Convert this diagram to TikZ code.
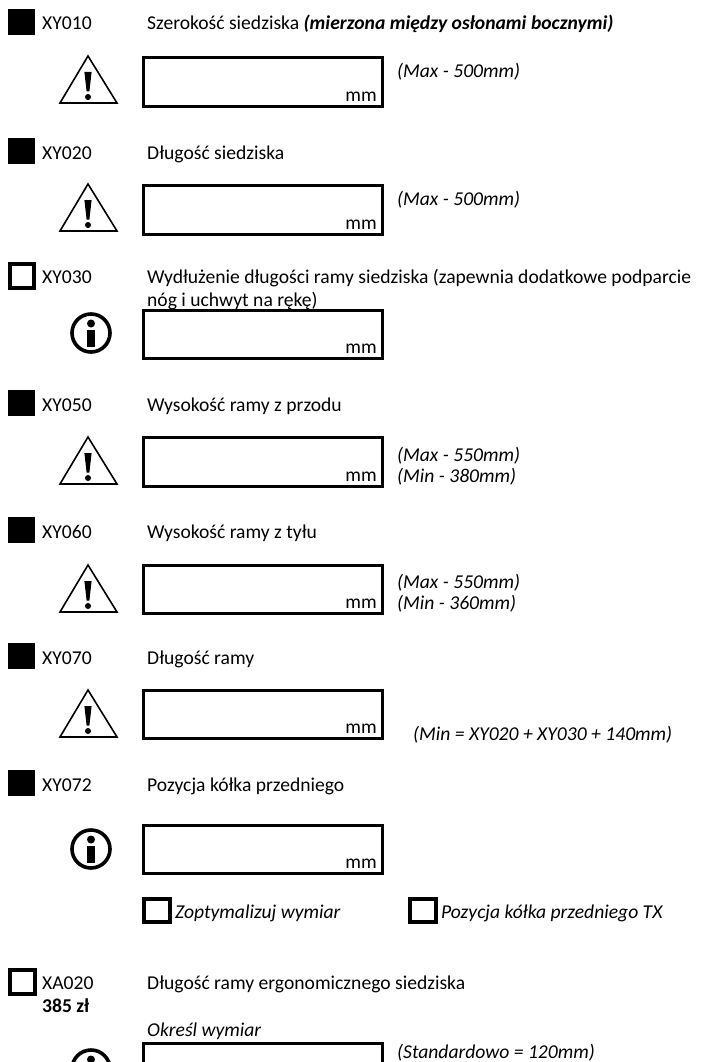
\documentclass[tikz,border=0pt]{standalone}
\usepackage{fontspec}
\setmainfont{Carlito}
\begin{document}
\begin{tikzpicture}[x=1pt,y=-1pt,
  txt/.style={anchor=base west, inner sep=0pt, font=\fontsize{19.6}{23}\selectfont},
  note/.style={anchor=base west, inner sep=0pt, font=\fontsize{19.6}{23}\selectfont\itshape},
  unit/.style={anchor=base east, inner sep=0pt, font=\fontsize{19.6}{23}\selectfont},
  valbox/.style={draw, line width=3pt},
  filledsq/.style={fill=black},
  hollowsq/.style={draw, line width=3.5pt},
  warn/.pic={
    \draw[line width=1.6pt, line join=miter] (-28,47) -- (0,0) -- (29,47) -- cycle;
    \fill (-3.6,16) -- (3.6,16) -- (1.4,35.5) -- (-1.4,35.5) -- cycle;
    \fill (0,41) circle (3pt);
  },
  info/.pic={
    \draw[line width=3.6pt] (0,0) circle (19pt);
    \fill (0,-9.5) circle (4pt);
    \fill (-4,-3.5) rectangle (4,14);
  }
]
\useasboundingbox (0,0) rectangle (705,1062);
\clip (0,0) rectangle (705,1062);

% ---- XY010
\fill[filledsq] (8,9) rectangle (35,35);
\node[txt] (c1) at (42,30) {XY010};
\node[txt] (l1) at (147,30) {Szerokość siedziska \textbf{\textit{(mierzona między osłonami bocznymi)}}};
\pic at (88,56) {warn};
\draw[valbox] (143,58) rectangle (382,107);
\node[unit] (u1) at (377,102) {mm};
\node[note] (n1) at (397,78) {(Max - 500mm)};

% ---- XY020
\fill[filledsq] (8,138) rectangle (35,164);
\node[txt] (c2) at (42,159) {XY020};
\node[txt] (l2) at (147,159) {Długość siedziska};
\pic at (88,184) {warn};
\draw[valbox] (143,185) rectangle (382,234);
\node[unit] (u2) at (377,229) {mm};
\node[note] (n2) at (397,205) {(Max - 500mm)};

% ---- XY030
\draw[hollowsq] (10,264) rectangle (34,288);
\node[txt] (c3) at (42,283) {XY030};
\node[txt] (l3) at (147,283) {Wydłużenie długości ramy siedziska (zapewnia dodatkowe podparcie};
\node[txt] (l3b) at (147,306) {nóg i uchwyt na rękę)};
\pic at (91,333) {info};
\draw[valbox] (143,310) rectangle (382,358);
\node[unit] (u3) at (377,353) {mm};

% ---- XY050
\fill[filledsq] (8,390) rectangle (35,416);
\node[txt] (c4) at (42,411) {XY050};
\node[txt] (l4) at (147,411) {Wysokość ramy z przodu};
\pic at (88,437) {warn};
\draw[valbox] (143,437) rectangle (382,486);
\node[unit] (u4) at (377,481) {mm};
\node[note] (n4a) at (397,461) {(Max - 550mm)};
\node[note] (n4b) at (397,482) {(Min - 380mm)};

% ---- XY060
\fill[filledsq] (8,517) rectangle (35,543);
\node[txt] (c5) at (42,538) {XY060};
\node[txt] (l5) at (147,538) {Wysokość ramy z tyłu};
\pic at (88,565) {warn};
\draw[valbox] (143,565) rectangle (382,613);
\node[unit] (u5) at (377,608) {mm};
\node[note] (n5a) at (397,588) {(Max - 550mm)};
\node[note] (n5b) at (397,609) {(Min - 360mm)};

% ---- XY070
\fill[filledsq] (8,643) rectangle (35,669);
\node[txt] (c6) at (42,664) {XY070};
\node[txt] (l6) at (147,664) {Długość ramy};
\pic at (88,690) {warn};
\draw[valbox] (143,690) rectangle (382,738);
\node[unit] (u6) at (377,733) {mm};
\node[note] (n6) at (413,740) {(Min = XY020 + XY030 + 140mm)};

% ---- XY072
\fill[filledsq] (8,770) rectangle (35,796);
\node[txt] (c7) at (42,791) {XY072};
\node[txt] (l7) at (147,791) {Pozycja kółka przedniego};
\pic at (91,849) {info};
\draw[valbox] (143,825) rectangle (382,873);
\node[unit] (u7) at (377,868) {mm};

\draw[hollowsq] (144,899) rectangle (170,922);
\node[note] (o1) at (175,918) {Zoptymalizuj wymiar};
\draw[hollowsq] (410,899) rectangle (436,922);
\node[note] (o2) at (441,918) {Pozycja kółka przedniego TX};

% ---- XA020
\draw[hollowsq] (10,970) rectangle (35,994);
\node[txt] (c8) at (42,989) {XA020};
\node[txt] (p8) at (42,1012) {\textbf{385 zł}};
\node[txt] (l8) at (147,989) {Długość ramy ergonomicznego siedziska};
\node[note] (s8) at (147,1036) {Określ wymiar};
\pic at (91,1069) {info};
\draw[valbox] (143,1043) rectangle (382,1100);
\node[note] (n8) at (397,1058) {(Standardowo = 120mm)};
\end{tikzpicture}
\end{document}
